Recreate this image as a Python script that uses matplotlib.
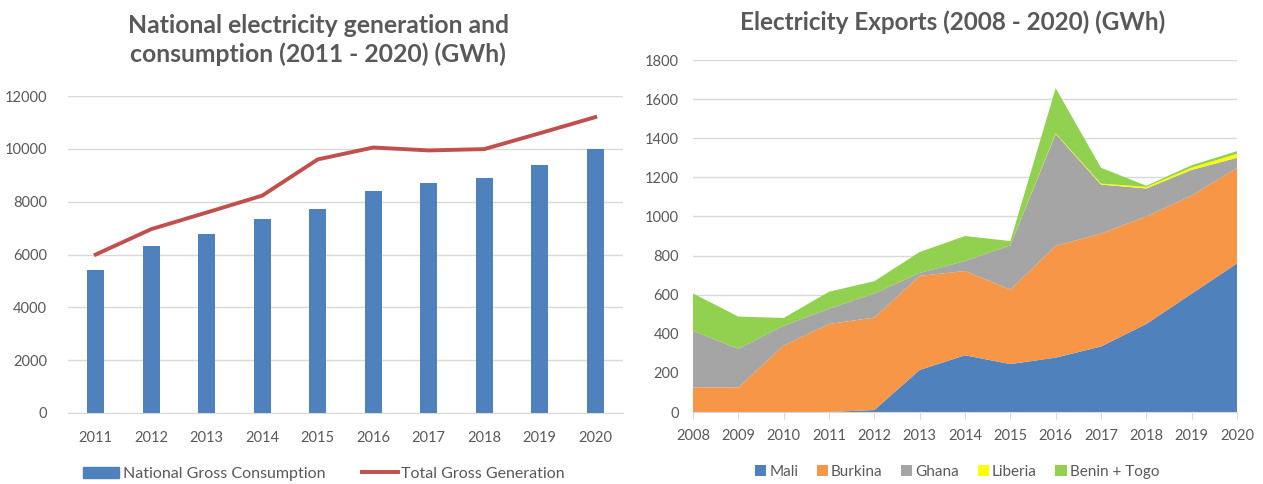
import numpy as np
import matplotlib.pyplot as plt
from matplotlib.patches import Patch
from matplotlib.lines import Line2D

plt.rcParams['font.family'] = ['Lato', 'DejaVu Sans']

# left chart data
years_l = ['2011', '2012', '2013', '2014', '2015', '2016', '2017', '2018', '2019', '2020']
consumption = [5420, 6330, 6780, 7340, 7740, 8390, 8700, 8900, 9400, 10010]
generation = [6000, 6960, 7590, 8230, 9600, 10050, 9940, 9990, 10590, 11200]

# right chart data
years_r = [2008, 2009, 2010, 2011, 2012, 2013, 2014, 2015, 2016, 2017, 2018, 2019, 2020]
mali = [0, 0, 0, 0, 10, 215, 290, 245, 278, 335, 450, 605, 760]
burkina = [126, 126, 340, 450, 473, 481, 431, 381, 571, 577, 550, 501, 489]
ghana = [289, 197, 101, 78, 123, 15, 51, 226, 573, 251, 143, 132, 51]
liberia = [0, 0, 0, 0, 0, 0, 0, 0, 3, 5, 8, 12, 20]
benin_togo = [191, 165, 40, 87, 63, 107, 128, 22, 231, 81, 6, 12, 14]

txt = '#595959'
grid = '#d9d9d9'

fig = plt.figure(figsize=(12.63, 4.84), dpi=100)

'''############################################################################
# LEFT: generation and consumption
############################################################################'''
ax1 = fig.add_axes([68/1263, 1-413/484, 555/1263, 317/484])
x = np.arange(len(years_l))
ax1.bar(x, consumption, width=0.31, color='#4F81BD', zorder=2)
ax1.plot(x, generation, color='#C0504D', lw=2.8, zorder=3)
ax1.set_xlim(-0.5, 9.5)
ax1.set_ylim(0, 12000)
ax1.set_yticks(range(0, 12001, 2000))
ax1.set_xticks(x)
ax1.set_xticklabels(years_l)
ax1.yaxis.grid(True, color=grid, lw=1, zorder=0)
for s in ['top', 'right', 'left']:
    ax1.spines[s].set_visible(False)
ax1.spines['bottom'].set_color(grid)
ax1.tick_params(length=0, colors=txt, labelsize=10.5)
ax1.tick_params(axis='x', pad=13)
ax1.tick_params(axis='y', pad=15)

fig.text(318/1263, 1-40/484, 'National electricity generation and\nconsumption (2011 - 2020) (GWh)',
         ha='center', va='center', fontsize=17.8, fontweight='bold', color=txt, linespacing=1.25)

h1 = [Patch(color='#4F81BD'), Line2D([0], [0], color='#C0504D', lw=2.8)]
fig.legend(h1, ['National Gross Consumption', 'Total Gross Generation'], loc='center',
           bbox_to_anchor=(324/1263, 1-474/484), ncol=2, frameon=False, fontsize=11.5,
           handlelength=2.25, handleheight=0.75, handletextpad=0.2, columnspacing=2.3,
           labelcolor=txt)

'''############################################################################
# RIGHT: exports stacked area
############################################################################'''
ax2 = fig.add_axes([693/1263, 1-412/484, 544/1263, 352/484])
ax2.stackplot(years_r, mali, burkina, ghana, liberia, benin_togo,
              colors=['#4F81BD', '#F79646', '#A5A5A5', '#FFFF00', '#92D050'],
              labels=['Mali', 'Burkina', 'Ghana', 'Liberia', 'Benin + Togo'], zorder=2)
ax2.set_xlim(2008, 2020)
ax2.set_ylim(0, 1800)
ax2.set_yticks(range(0, 1801, 200))
ax2.set_xticks(years_r)
ax2.yaxis.grid(True, color=grid, lw=1, zorder=0)
for s in ['top', 'right', 'left']:
    ax2.spines[s].set_visible(False)
ax2.spines['bottom'].set_color(grid)
ax2.tick_params(axis='x', length=5, color=grid, labelcolor=txt, labelsize=10.5, pad=7)
ax2.tick_params(axis='y', length=0, labelcolor=txt, labelsize=10.5, pad=10)

fig.text(953/1263, 1-22/484, 'Electricity Exports (2008 - 2020) (GWh)',
         ha='center', va='center', fontsize=17.5, fontweight='bold', color=txt)

fig.legend(*ax2.get_legend_handles_labels(), loc='center',
           bbox_to_anchor=(957/1263, 1-472/484), ncol=5, frameon=False, fontsize=11,
           handlelength=0.75, handleheight=0.75, handletextpad=0.2, columnspacing=1.2,
           labelcolor=txt)

plt.savefig('out.png', dpi=100)
